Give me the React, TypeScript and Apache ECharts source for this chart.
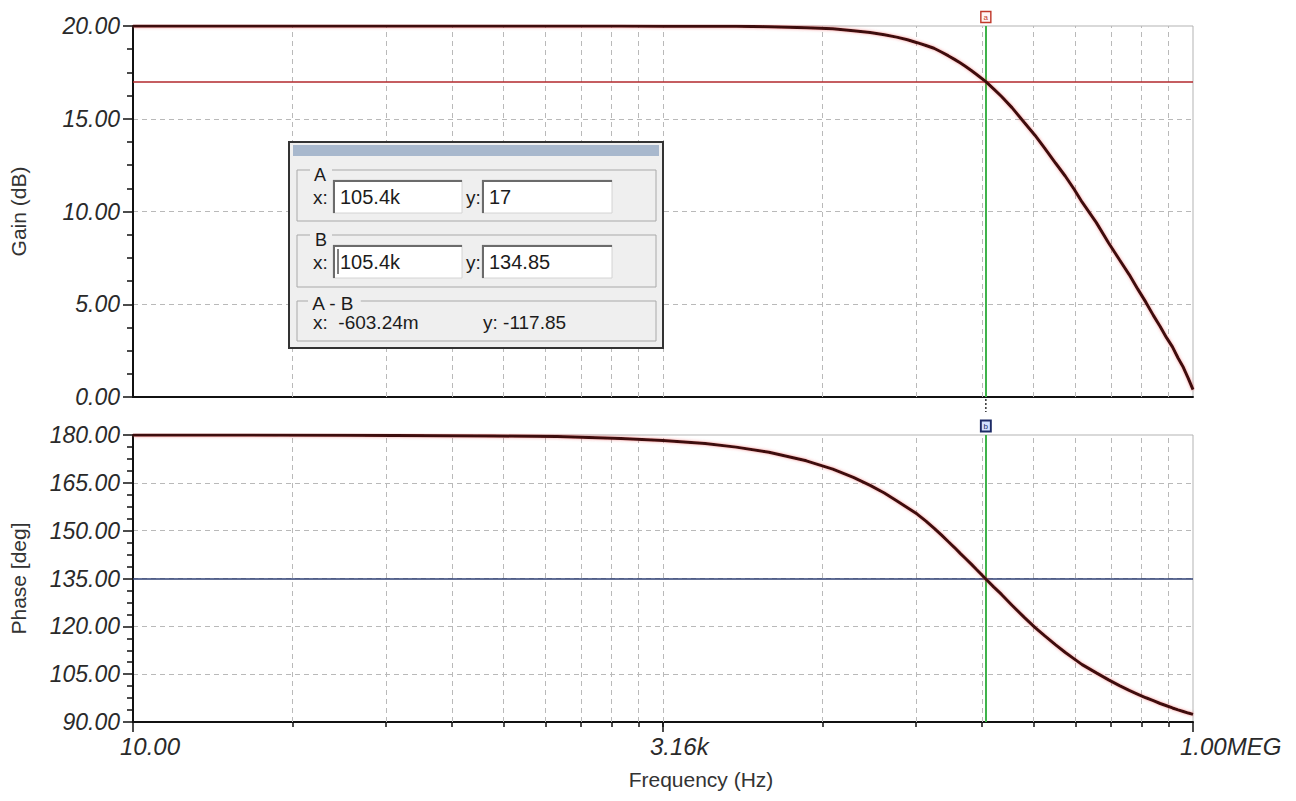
import React, { useEffect, useRef } from "react";
import * as echarts from "echarts";

// ---- data ----
const freqHz = [10, 100, 500, 1000, 2000, 3162, 5000, 7000, 10000, 15000, 20000, 25000, 30000, 35000, 40000, 45000, 50000, 55000, 60000, 65000, 70000, 75000, 80000, 85000, 90000, 95000, 105400, 115000, 125000, 140000, 160000, 180000, 200000, 225000, 250000, 275000, 300000, 350000, 400000, 450000, 500000, 550000, 600000, 650000, 700000, 750000, 800000, 850000, 900000, 950000, 1000000];
const gainDb = [20.0, 20.0, 20.0, 20.0, 20.0, 19.99, 19.99, 19.98, 19.96, 19.91, 19.85, 19.75, 19.65, 19.53, 19.4, 19.26, 19.1, 18.95, 18.8, 18.6, 18.4, 18.2, 18.0, 17.8, 17.6, 17.4, 17.0, 16.6, 16.2, 15.6, 14.8, 14.1, 13.4, 12.6, 11.9, 11.2, 10.5, 9.4, 8.3, 7.4, 6.6, 5.8, 5.1, 4.4, 3.8, 3.2, 2.7, 2.1, 1.6, 1.0, 0.4];
const phaseDeg = [180, 179.95, 179.7, 179.5, 178.9, 178.3, 177.3, 176.2, 174.6, 171.9, 169.3, 166.7, 164.2, 161.8, 159.4, 157.2, 155.2, 153.0, 150.8, 148.7, 146.6, 144.7, 142.8, 141.1, 139.5, 137.9, 134.85, 132.3, 130.0, 126.6, 122.8, 119.6, 117.0, 114.2, 111.8, 109.8, 108.0, 105.4, 103.2, 101.4, 99.9, 98.7, 97.6, 96.7, 95.8, 95.1, 94.4, 93.8, 93.3, 92.8, 92.4];

const cursorFreq = 105400;
const cursorGain = 17;
const cursorPhase = 134.85;

const xTickValues = [10, 3162.28, 1000000];
const xTickLabels = ["10.00", "3.16k", "1.00MEG"];
// TINA draws 2 "pseudo decades" (10 -> 3.16k -> 1MEG), each subdivided like a log decade
const gridSteps = [2, 3, 4, 5, 6, 7, 8, 9, 10];
const gridFreqs: number[] = [];
[0, 1].forEach((i) =>
  gridSteps.forEach((k) => {
    const f = 10 * Math.pow(10, 2.5 * (i + Math.log10(k)));
    if (f < 999000) gridFreqs.push(f);
  })
);

const gainMin = 0, gainMax = 20, gainStep = 5;
const phaseMin = 90, phaseMax = 180, phaseStep = 15;

const FONT = "'Liberation Sans', Arial, sans-serif";
const AXIS_TXT = "#2a2a2a";
const CURVE = "#3e0c0c";
const GRID_DASH = { color: "#b9b9b9", type: [5, 4] as any, width: 1 };

function dialogGraphics() {
  const bg = "#efefef";
  const els: any[] = [];
  els.push({ type: "rect", shape: { x: 289, y: 142, width: 374, height: 206 }, style: { fill: bg, stroke: "#333", lineWidth: 2 }, z: 100 });
  els.push({ type: "rect", shape: { x: 293, y: 145, width: 366, height: 11 }, style: { fill: "#a8b8cd" }, z: 101 });
  const frame = (y: number, h: number) =>
    els.push({ type: "rect", shape: { x: 297, y, width: 359, height: h }, style: { fill: null, stroke: "#a9a9a9", lineWidth: 1 }, z: 101 });
  const txt = (x: number, y: number, t: string, extra: any = {}) =>
    els.push({ type: "text", x, y, style: { text: t, font: `19px ${FONT}`, fill: "#1c1c1c", verticalAlign: "middle", ...extra }, z: 103 });
  const box = (x: number, y: number, w: number, h: number) => {
    els.push({ type: "rect", shape: { x, y, width: w, height: h }, style: { fill: "#fff", stroke: "#d4d4d4", lineWidth: 1 }, z: 102 });
    els.push({ type: "polyline", shape: { points: [[x + 1, y + h], [x + 1, y + 1], [x + w, y + 1]] }, style: { stroke: "#6b6b6b", lineWidth: 2, fill: null }, z: 102 });
  };
  // group A
  frame(170, 51);
  txt(310, 175, " A ", { backgroundColor: bg, font: `18px ${FONT}` });
  txt(313, 197, "x:");
  box(333, 180, 129, 33);
  txt(340, 197, "105.4k", { font: `20px ${FONT}` });
  txt(466, 197, "y:");
  box(482, 180, 130, 33);
  txt(489, 197, "17", { font: `20px ${FONT}` });
  // group B
  frame(235, 52);
  txt(310, 240, " B ", { backgroundColor: bg, font: `18px ${FONT}` });
  txt(313, 262, "x:");
  box(333, 245, 129, 33);
  txt(340, 262, "105.4k", { font: `20px ${FONT}` });
  els.push({ type: "line", shape: { x1: 338, y1: 249, x2: 338, y2: 274 }, style: { stroke: "#000", lineWidth: 1 }, z: 104 });
  txt(466, 262, "y:");
  box(482, 245, 130, 33);
  txt(489, 262, "134.85", { font: `20px ${FONT}` });
  // group A-B
  frame(301, 40);
  txt(308, 303, " A - B ", { backgroundColor: bg });
  txt(313, 322, "x:  -603.24m");
  txt(483, 322, "y: -117.85");
  return els;
}

export default function App() {
  const ref = useRef<HTMLDivElement>(null);
  useEffect(() => {
    document.body.style.margin = "0";
    const chart = echarts.init(ref.current!, null, { renderer: "svg" });

    const yLabel = {
      fontFamily: FONT, fontStyle: "italic", fontSize: 23, color: AXIS_TXT, margin: 13,
      formatter: (v: number) => v.toFixed(2),
    };
    const yCommon = {
      axisLine: { show: true, lineStyle: { color: "#111", width: 2 } },
      axisTick: { show: true, length: 10, lineStyle: { color: "#111", width: 1.5 } },
      minorTick: { show: true, splitNumber: 4, length: 6, lineStyle: { color: "#111", width: 1.5 } },
      splitLine: { show: true, showMinLine: false, showMaxLine: false, lineStyle: GRID_DASH },
      axisLabel: yLabel,
      nameLocation: "middle",
      nameGap: 104,
      nameTextStyle: { fontFamily: FONT, fontSize: 21, color: "#333" },
    };
    const xCommon = { type: "log", logBase: 10, min: 10, max: 1000000, splitLine: { show: false }, minorTick: { show: false } };

    const gridMarkLine = {
      silent: true, symbol: ["none", "none"], label: { show: false },
      lineStyle: GRID_DASH,
      data: gridFreqs.map((f) => ({ xAxis: f })),
    };

    const curveStyle = { color: CURVE, width: 3, shadowColor: "rgba(230,70,70,0.55)", shadowBlur: 3 };

    const option: any = {
      animation: false,
      backgroundColor: "#fff",
      grid: [
        { left: 131, top: 26, width: 1062, height: 371, show: true, borderColor: "#b3b3b3", borderWidth: 1 },
        { left: 131, top: 435, width: 1062, height: 287, show: true, borderColor: "#b3b3b3", borderWidth: 1 },
      ],
      xAxis: [
        { ...xCommon, gridIndex: 0, position: "bottom", axisLine: { lineStyle: { color: "#111", width: 2 } }, axisTick: { show: false }, axisLabel: { show: false } },
        {
          ...xCommon, gridIndex: 1, position: "bottom",
          axisLine: { lineStyle: { color: "#111", width: 2 } },
          axisTick: { show: true, customValues: gridFreqs, length: 5, lineStyle: { color: "#111", width: 1.5 } },
          axisLabel: { show: false },
          name: "Frequency (Hz)", nameLocation: "middle", nameGap: 47,
          nameTextStyle: { fontFamily: FONT, fontSize: 21, color: "#333", padding: [0, 0, 0, 76] },
        },
        {
          ...xCommon, gridIndex: 1, position: "bottom", offset: 0,
          axisLine: { show: false },
          axisTick: { show: true, customValues: xTickValues, length: 10, lineStyle: { color: "#111", width: 1.5 } },
          axisLabel: {
            show: true, customValues: xTickValues, align: "left", padding: [0, 0, 0, -13], margin: 12,
            fontFamily: FONT, fontStyle: "italic", fontSize: 24, color: AXIS_TXT,
            formatter: (v: number) => {
              let best = 0;
              xTickValues.forEach((t, i) => { if (Math.abs(Math.log10(t) - Math.log10(v)) < Math.abs(Math.log10(xTickValues[best]) - Math.log10(v))) best = i; });
              return xTickLabels[best];
            },
          },
        },
      ],
      yAxis: [
        { ...yCommon, type: "value", gridIndex: 0, min: gainMin, max: gainMax, interval: gainStep, name: "Gain (dB)" },
        { ...yCommon, type: "value", gridIndex: 1, min: phaseMin, max: phaseMax, interval: phaseStep, name: "Phase [deg]" },
      ],
      series: [
        { type: "line", xAxisIndex: 0, yAxisIndex: 0, data: [], markLine: gridMarkLine, z: 1 },
        { type: "line", xAxisIndex: 1, yAxisIndex: 1, data: [], markLine: gridMarkLine, z: 1 },
        {
          type: "line", name: "Gain", xAxisIndex: 0, yAxisIndex: 0, z: 5,
          data: freqHz.map((f, i) => [f, gainDb[i]]),
          showSymbol: false, smooth: false,
          lineStyle: curveStyle,
          markLine: {
            silent: true, symbol: ["none", "none"], label: { show: false },
            data: [
              { yAxis: cursorGain, lineStyle: { color: "#b2282c", width: 1.5, type: "solid" } },
              { xAxis: cursorFreq, lineStyle: { color: "#3fb34b", width: 2, type: "solid" } },
            ],
          },
          markPoint: {
            silent: true,
            data: [{
              coord: [cursorFreq, gainMax], symbol: "rect", symbolSize: [10, 11], symbolOffset: [0, -9],
              itemStyle: { color: "#fff4f4", borderColor: "#c0392b", borderWidth: 1.5 },
              label: { show: true, formatter: "a", color: "#c0392b", fontSize: 8, position: "inside" },
            }],
          },
        },
        {
          type: "line", name: "Phase", xAxisIndex: 1, yAxisIndex: 1, z: 5,
          data: freqHz.map((f, i) => [f, phaseDeg[i]]),
          showSymbol: false, smooth: false,
          lineStyle: curveStyle,
          markLine: {
            silent: true, symbol: ["none", "none"], label: { show: false },
            data: [
              { yAxis: cursorPhase, lineStyle: { color: "#2e3f74", width: 1.5, type: "solid" } },
              { xAxis: cursorFreq, lineStyle: { color: "#3fb34b", width: 2, type: "solid" } },
            ],
          },
          markPoint: {
            silent: true,
            data: [{
              coord: [cursorFreq, phaseMax], symbol: "rect", symbolSize: [10, 11], symbolOffset: [0, -9],
              itemStyle: { color: "#d3e2ff", borderColor: "#1d2b66", borderWidth: 2 },
              label: { show: true, formatter: "b", color: "#1d2b66", fontSize: 8, position: "inside" },
            }],
          },
        },
      ],
    };
    chart.setOption(option);

    const px = chart.convertToPixel({ xAxisIndex: 0 }, cursorFreq) as number;
    const bottomTop = chart.convertToPixel({ yAxisIndex: 0 }, gainMin) as number;
    chart.setOption({
      graphic: [
        { type: "line", shape: { x1: px, y1: bottomTop + 2, x2: px, y2: bottomTop + 15 }, style: { stroke: "#333", lineWidth: 1.5, lineDash: [2, 2] }, z: 50 },
        ...dialogGraphics(),
      ],
    });
    return () => chart.dispose();
  }, []);
  return <div ref={ref} style={{ width: 1296, height: 801 }} />;
}
